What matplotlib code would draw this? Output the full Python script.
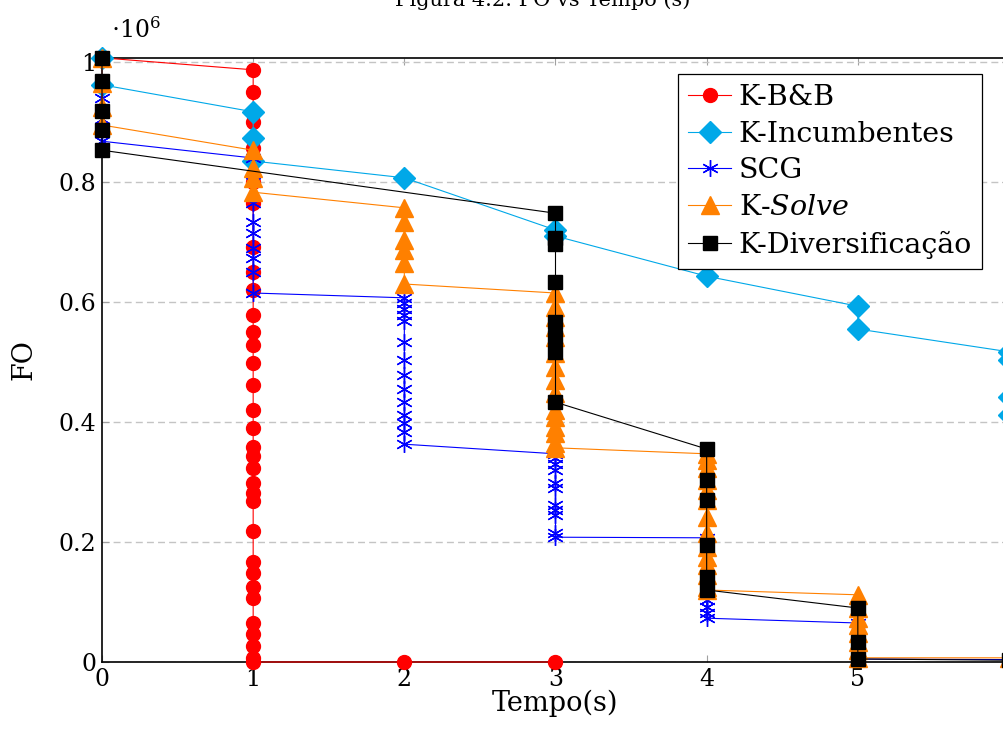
import numpy as np
import matplotlib
matplotlib.use("Agg")
import matplotlib.pyplot as plt

# FO values (x 10^6), one list per second (t = 0, 1, 2, ...)
bb_fo = [[1.007],
         [0.987, 0.95, 0.90, 0.857, 0.80, 0.765, 0.692, 0.65, 0.62, 0.578, 0.55,
          0.528, 0.498, 0.462, 0.42, 0.39, 0.358, 0.343, 0.323, 0.298, 0.282,
          0.268, 0.218, 0.167, 0.148, 0.125, 0.107, 0.065, 0.047, 0.027, 0.007, 0.0],
         [0.0],
         [0.0]]
inc_fo = [[1.007, 0.962],
          [0.917, 0.873, 0.835],
          [0.807],
          [0.72, 0.71],
          [0.643],
          [0.593, 0.555],
          [0.517, 0.503, 0.442, 0.412]]
scg_fo = [[1.007, 0.94, 0.905, 0.868],
          [0.84, 0.80, 0.765, 0.733, 0.715, 0.69, 0.673, 0.65, 0.615],
          [0.607, 0.598, 0.588, 0.578, 0.568, 0.533, 0.503, 0.478, 0.455, 0.433,
           0.412, 0.398, 0.383, 0.363],
          [0.347, 0.34, 0.33, 0.32, 0.298, 0.29, 0.262, 0.253, 0.245, 0.215, 0.208],
          [0.207, 0.103, 0.092, 0.082, 0.073],
          [0.065, 0.005],
          [0.004]]
solve_fo = [[1.007, 0.965, 0.925, 0.895],
            [0.853, 0.823, 0.807, 0.783],
            [0.757, 0.733, 0.703, 0.687, 0.665, 0.63],
            [0.615, 0.592, 0.575, 0.558, 0.542, 0.515, 0.492, 0.47, 0.448, 0.42,
             0.408, 0.392, 0.382, 0.365, 0.357],
            [0.347, 0.337, 0.323, 0.303, 0.287, 0.27, 0.242, 0.215, 0.192, 0.175,
             0.162, 0.145, 0.125, 0.12],
            [0.112, 0.09, 0.073, 0.062, 0.048, 0.033, 0.02, 0.007],
            [0.007]]
div_fo = [[1.007, 0.968, 0.918, 0.887, 0.853],
          [],
          [],
          [0.748, 0.707, 0.697, 0.633, 0.567, 0.542, 0.517, 0.433],
          [0.355, 0.303, 0.27, 0.195, 0.142, 0.12],
          [0.09, 0.033, 0.005],
          [0.003]]

labels = ["K-B&B", "K-Incumbentes", "SCG", r"K-$\mathit{Solve}$", "K-Diversificação"]
x_ticks = [0, 1, 2, 3, 4, 5, 6]
y_ticks = [0, 0.2, 0.4, 0.6, 0.8, 1.0]
y_ticklabels = ["0", "0.2", "0.4", "0.6", "0.8", "1"]


def flatten(series):
    t, fo = [], []
    for sec, vals in enumerate(series):
        t += [sec] * len(vals)
        fo += vals
    return np.array(t), np.array(fo) * 1e6


plt.rcParams['font.family'] = ['DejaVu Serif']
plt.rcParams['mathtext.fontset'] = 'dejavuserif'
plt.rcParams['font.size'] = 17

fig = plt.figure(figsize=(10.04, 7.38), dpi=100)
ax = fig.add_axes([102 / 1004, 76 / 738, 907 / 1004, 604 / 738])

styles = [
    dict(color="#ff0000", marker="o", ms=10),
    dict(color="#00a8e8", marker="D", ms=11),
    dict(color="#0000ff", marker=(6, 2, 0), ms=12, mew=1.0),
    dict(color="#ff8000", marker="^", ms=13),
    dict(color="#000000", marker="s", ms=10),
]
for series, lab, st in zip([bb_fo, inc_fo, scg_fo, solve_fo, div_fo], labels, styles):
    t, fo = flatten(series)
    ax.plot(t, fo, lw=0.8, label=lab, clip_on=False, zorder=3, **st)

ax.set_xlim(0, 6)
ax.set_ylim(0, 1.0067e6)
ax.set_xticks(x_ticks)
ax.set_yticks([v * 1e6 for v in y_ticks])
ax.set_yticklabels(y_ticklabels)
ax.yaxis.grid(True, color="#c4c4c4", ls=(0, (5, 3)), lw=1.0)
ax.set_axisbelow(True)
ax.tick_params(direction="in", color="#a0a0a0", length=5, top=True, right=True,
               labelsize=17, pad=4)
for sp in ax.spines.values():
    sp.set_linewidth(1.2)

ax.set_xlabel("Tempo(s)", fontsize=19.5, labelpad=-1)
ax.set_ylabel("FO", fontsize=19.5, labelpad=15)
ax.text(0.01, 1.025, r"$\cdot 10^6$", transform=ax.transAxes, fontsize=17, va="bottom")

fig.text(690 / 1004, 1 - 6 / 738, "Figura 4.2: FO vs Tempo (s)", ha="right",
         va="baseline", fontsize=15)

leg = ax.legend(loc="upper right", bbox_to_anchor=(0.970, 0.9735), borderaxespad=0,
                fancybox=False, framealpha=1, edgecolor="black", handlelength=1.5,
                labelspacing=0.34, borderpad=0.35, handletextpad=0.26, fontsize=20.5)
leg.get_frame().set_linewidth(0.9)
leg.set_zorder(5)

fig.savefig("out.png", dpi=100)
